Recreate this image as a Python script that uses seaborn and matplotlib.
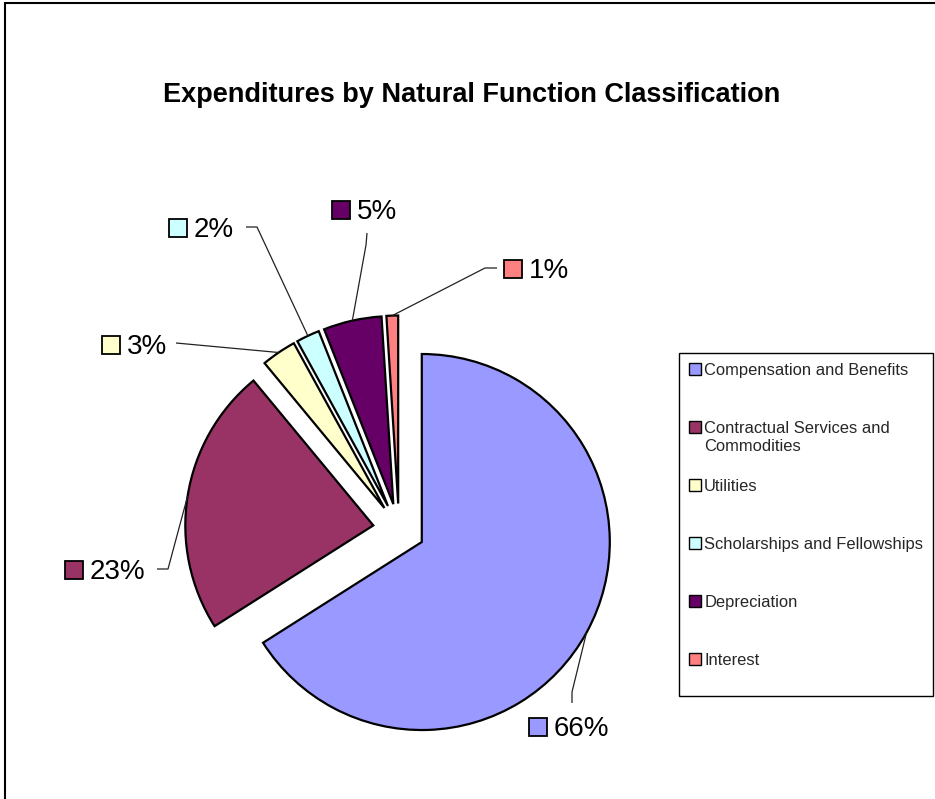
import matplotlib
matplotlib.use("Agg")
import matplotlib.pyplot as plt
import seaborn as sns
import numpy as np
from matplotlib.patches import Rectangle
from matplotlib.legend_handler import HandlerPatch

# ---------------- data ----------------
categories = ["Compensation and Benefits",
              "Contractual Services and Commodities",
              "Utilities",
              "Scholarships and Fellowships",
              "Depreciation",
              "Interest"]
legend_labels = ["Compensation and Benefits",
                 "Contractual Services and\nCommodities",
                 "Utilities",
                 "Scholarships and Fellowships",
                 "Depreciation",
                 "Interest"]
shares = [66, 23, 3, 2, 5, 1]
colors = ["#9999FF", "#993366", "#FFFFCC", "#CCFFFF", "#660066", "#FF8080"]
title = "Expenditures by Natural Function Classification"

# ---------------- layout (pixel coordinates, y downward) ----------------
W, H = 935, 799
pie_center = (399, 529.5)
pie_radius = 188
explode_px = 26
label_square = [(538, 727), (74, 570), (111, 345), (178, 228), (341, 210), (513, 269)]
leader_start = [(572, 703), (157, 569), (176, 343), (246, 227), (367, 233), (497, 268)]
leader_elbow = [(572, 692), (168, 569), None, (257, 227), (366, 245), (485, 268)]

sns.set_theme(style="white")
plt.rcParams["font.family"] = ["Liberation Sans", "DejaVu Sans"]

fig = plt.figure(figsize=(W / 100, H / 100), dpi=100)
ax = fig.add_axes([0, 0, 1, 1])


def Y(y):
    return H - y


wedges, _ = ax.pie(shares, colors=colors, startangle=90, counterclock=False,
                   center=(pie_center[0], Y(pie_center[1])), radius=pie_radius,
                   explode=[explode_px] * len(shares), frame=True,
                   wedgeprops=dict(edgecolor="black", linewidth=1.6))
ax.set_xlim(0, W)
ax.set_ylim(0, H)
ax.set_axis_off()

# data labels with leader lines
for i, w in enumerate(wedges):
    mid = np.deg2rad((w.theta1 + w.theta2) / 2)
    cx, cy = w.center
    ex, ey = cx + w.r * np.cos(mid), cy + w.r * np.sin(mid)
    pts = [leader_start[i]]
    if leader_elbow[i] is not None:
        pts.append(leader_elbow[i])
    xs = [p[0] for p in pts] + [ex]
    ys = [Y(p[1]) for p in pts] + [ey]
    ax.plot(xs, ys, color="#222222", lw=0.9, solid_capstyle="butt", zorder=1.5)
    sx, sy = label_square[i]
    ax.plot([sx], [Y(sy)], marker="s", ms=13, mfc=colors[i], mec="black", mew=1.3,
            zorder=4)
    ax.text(sx + 16, Y(sy + 9), f"{shares[i]}%", fontsize=20, ha="left",
            va="baseline", color="black", zorder=4)

# title
ax.text(472, Y(102), title, fontsize=19.5, fontweight="bold", ha="center",
        va="baseline", color="black")


# legend with handles aligned to the first line of each label
class TopAlignedHandler(HandlerPatch):
    def __init__(self, shift):
        super().__init__()
        self.shift = shift

    def _create_patch(self, legend, orig_handle, xdescent, ydescent, width, height, fontsize):
        return Rectangle((-xdescent, -ydescent + self.shift), width, height)


lab = [l if "\n" in l else l + "\n" for l in legend_labels]
handler = TopAlignedHandler(shift=8.0)
leg = ax.legend(wedges, lab, loc="upper left",
                bbox_to_anchor=(679 / W, 1 - 353 / H), bbox_transform=fig.transFigure,
                borderaxespad=0, fontsize=11.85, frameon=True, fancybox=False,
                framealpha=1, edgecolor="black", borderpad=0.6,
                handlelength=0.73, handleheight=0.73, handletextpad=0.2,
                labelspacing=1.49, handler_map={w: handler for w in wedges})
leg.get_frame().set_linewidth(1.0)
for t in leg.get_texts():
    t.set_linespacing(1.29)
for h in leg.legend_handles:
    h.set_linewidth(1.0)

# outer chart-area border (only top and left visible)
ax.add_patch(Rectangle((5, -20), W + 20, H - 3 + 20, fill=False, edgecolor="black",
                       lw=1.5, clip_on=False, zorder=10))

fig.savefig("out.png", dpi=100)
